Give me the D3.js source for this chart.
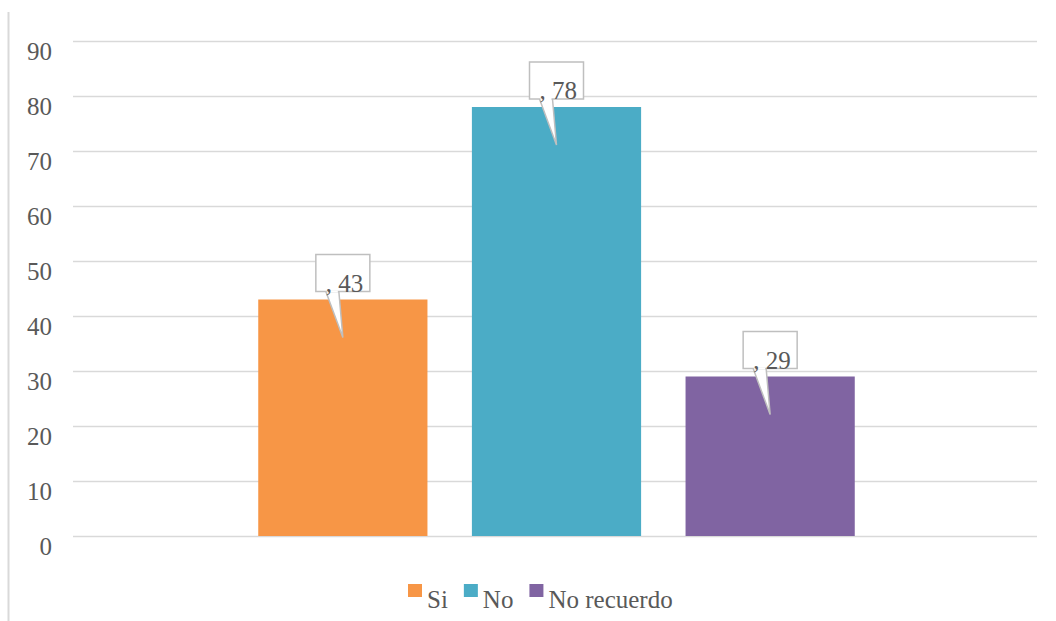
<!DOCTYPE html>
<html>
<head>
<meta charset="utf-8">
<script src="https://cdn.jsdelivr.net/npm/d3@7"></script>
<style>
  html, body { margin: 0; padding: 0; background: #fff; }
  svg { display: block; }
  text { font-family: "Liberation Serif", "DejaVu Serif", serif; fill: #595959; }
</style>
</head>
<body>
<svg id="chart" width="1056" height="621"></svg>
<script>
const categories = ["Si", "No", "No recuerdo"];
const values = [43, 78, 29];
const colors = ["#F79646", "#4BACC6", "#8064A2"];
const yTicks = [0, 10, 20, 30, 40, 50, 60, 70, 80, 90];

const svg = d3.select("#chart");
const W = 1056, H = 621;
const plot = { left: 73, right: 1037, top: 41, bottom: 536 };

// outer frame line on the left
svg.append("line")
  .attr("x1", 8.5).attr("x2", 8.5).attr("y1", 12).attr("y2", H)
  .attr("stroke", "#d9d9d9").attr("stroke-width", 2);

const y = d3.scaleLinear().domain([0, 90]).range([plot.bottom, plot.top]);
const x = d3.scaleBand().domain(categories)
  .range([plot.left + 1.5, plot.right + 1.5])
  .paddingInner(0.208).paddingOuter(0.86);

// gridlines
const yAxis = d3.axisLeft(y).tickValues(yTicks).tickSize(-(plot.right - plot.left)).tickFormat(d3.format("d"));
const gAxis = svg.append("g").attr("transform", `translate(${plot.left},0)`).call(yAxis);
gAxis.select(".domain").remove();
gAxis.selectAll(".tick line").attr("stroke", "#d9d9d9").attr("stroke-width", 1.5);
gAxis.selectAll(".tick text")
  .attr("x", 52 - plot.left).attr("dy", null).attr("y", 18)
  .attr("text-anchor", "end")
  .style("font-family", '"Liberation Serif", "DejaVu Serif", serif')
  .style("font-size", "25px").attr("fill", "#595959");

// bars
svg.append("g").selectAll("rect").data(categories).join("rect")
  .attr("x", d => x(d))
  .attr("width", x.bandwidth())
  .attr("y", (d, i) => y(values[i]))
  .attr("height", (d, i) => y(0) - y(values[i]))
  .attr("fill", (d, i) => colors[i]);

// callouts
const cg = svg.append("g");
categories.forEach((c, i) => {
  const cx = x(c) + x.bandwidth() / 2;
  const top = y(values[i]);
  const bw = 54, bh = 37;
  const bx = cx - bw / 2, by = top - 8 - bh;
  const g = cg.append("g");
  // pointer
  g.append("path")
    .attr("d", `M${cx - 17},${by + bh} L${cx},${top + 38} L${cx - 4},${by + bh} Z`)
    .attr("fill", "#fff").attr("stroke", "#bfbfbf").attr("stroke-width", 1.5)
    .attr("stroke-linejoin", "miter");
  g.append("rect")
    .attr("x", bx).attr("y", by).attr("width", bw).attr("height", bh)
    .attr("fill", "#fff").attr("stroke", "#bfbfbf").attr("stroke-width", 1.5);
  // cover the pointer base line inside the box
  g.append("line")
    .attr("x1", cx - 16).attr("x2", cx - 5).attr("y1", by + bh).attr("y2", by + bh)
    .attr("stroke", "#fff").attr("stroke-width", 2);
  g.append("text")
    .attr("x", cx - 17).attr("y", by + bh)
    .style("font-size", "25px")
    .text(", " + values[i]);
});

// legend
const lg = svg.append("g");
let lx = 408;
categories.forEach((c, i) => {
  lg.append("rect").attr("x", lx).attr("y", 584).attr("width", 14).attr("height", 13).attr("fill", colors[i]);
  const t = lg.append("text").attr("x", lx + 19).attr("y", 608).style("font-size", "25px").text(c);
  const w = t.node().getComputedTextLength();
  lx = lx + 19 + w + 16;
});
</script>
</body>
</html>
